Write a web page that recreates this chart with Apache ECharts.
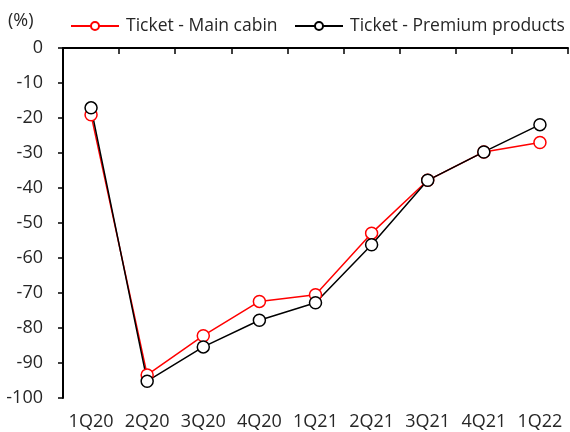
<!DOCTYPE html>
<html><head><meta charset="utf-8">
<script src="https://cdn.jsdelivr.net/npm/echarts@6/dist/echarts.min.js"></script>
<style>html,body{margin:0;padding:0;background:#fff}#c{width:570px;height:432px}</style>
</head><body><div id="c"></div>
<script>
const categories = ['1Q20','2Q20','3Q20','4Q20','1Q21','2Q21','3Q21','4Q21','1Q22'];
const mainCabin = [-19.1, -93.4, -82.2, -72.4, -70.5, -52.9, -37.8, -29.7, -27.0];
const premium = [-17.1, -95.2, -85.4, -77.8, -72.8, -56.2, -37.8, -29.7, -21.9];
const seriesNames = ['Ticket - Main cabin', 'Ticket - Premium products'];
const FONT = '"Open Sans", "Noto Sans", sans-serif';
const FS = 18;
const TXT = '#262626';
const legendBase = {
  top: 17, padding: 0, itemWidth: 48, itemHeight: 10,
  textStyle: {fontFamily: FONT, fontSize: 17.5, color: TXT, padding: [0, 0, 0, 2]}
};
const chart = echarts.init(document.getElementById('c'));
chart.setOption({
  animation: false,
  textStyle: {fontFamily: FONT},
  grid: {left: 63, right: 2, top: 48, bottom: 34},
  legend: [
    Object.assign({}, legendBase, {left: 70, data: [seriesNames[0]]}),
    Object.assign({}, legendBase, {left: 294, data: [seriesNames[1]]})
  ],
  graphic: [{type: 'text', left: 8, top: 12, style: {text: '(%)', font: FS + 'px ' + FONT, fill: TXT}}],
  xAxis: [
    {type: 'category', data: categories, position: 'bottom', boundaryGap: true,
     axisLine: {show: false}, axisTick: {show: false},
     axisLabel: {interval: 0, hideOverlap: false, fontSize: FS, color: TXT, margin: 15, fontFamily: FONT}},
    {type: 'category', data: categories, position: 'top', boundaryGap: true,
     axisLine: {show: true, lineStyle: {color: '#000', width: 2}},
     axisTick: {show: true, inside: true, interval: 0, length: 6, lineStyle: {color: '#000', width: 1.5}},
     axisLabel: {show: false, interval: 0}}
  ],
  yAxis: {type: 'value', min: -100, max: 0, interval: 10,
    axisLine: {show: true, lineStyle: {color: '#000', width: 2}},
    axisTick: {show: true, length: 5, lineStyle: {color: '#000', width: 1.5}},
    splitLine: {show: false},
    axisLabel: {fontSize: FS, color: TXT, margin: 20, fontFamily: FONT}},
  series: [
    {name: seriesNames[0], type: 'line', data: mainCabin, xAxisIndex: 0,
     symbol: 'circle', symbolSize: 12,
     lineStyle: {color: '#ff0000', width: 1.5},
     itemStyle: {color: '#fff', borderColor: '#ff0000', borderWidth: 1.5}},
    {name: seriesNames[1], type: 'line', data: premium, xAxisIndex: 0,
     symbol: 'circle', symbolSize: 12,
     lineStyle: {color: '#000', width: 1.5},
     itemStyle: {color: '#fff', borderColor: '#000', borderWidth: 1.5}}
  ]
});
</script></body></html>
